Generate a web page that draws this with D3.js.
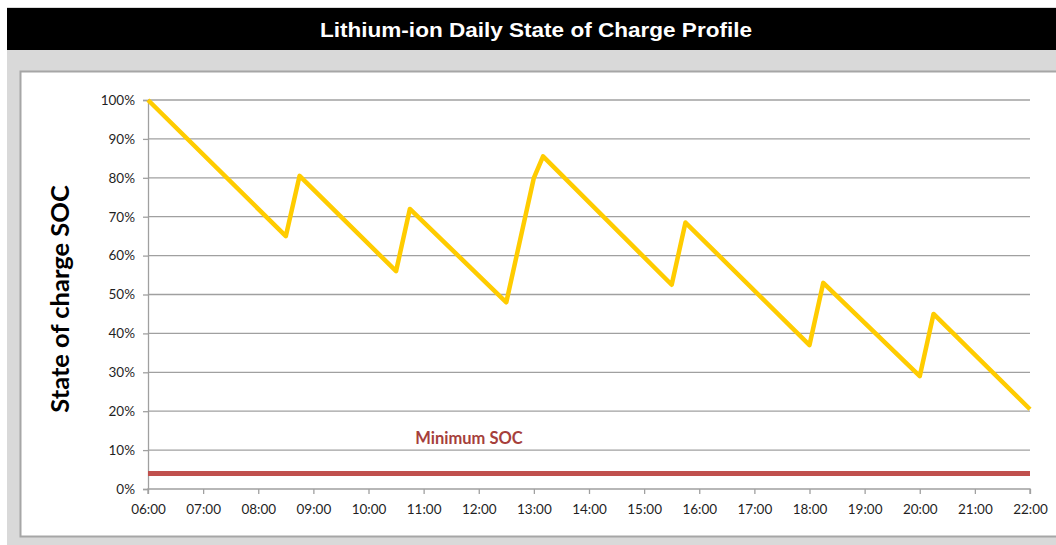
<!DOCTYPE html>
<html lang="en">
<head>
    <meta charset="UTF-8">
    <title>Lithium-ion Daily State of Charge Profile</title>
    <script src="https://cdn.jsdelivr.net/npm/d3@7"></script>
    <style>
        body { margin: 0; background: #fff; }
        svg { display: block; }
    </style>
</head>
<body>
    <div id="chart"></div>
    <script>
// data
const times = ["06:00", "08:30", "08:45", "10:30", "10:45", "12:30", "13:00", "13:10",
               "15:30", "15:45", "18:00", "18:15", "20:00", "20:15", "22:00"];
const soc = [100, 65, 80.5, 56, 72, 48, 80, 85.5, 52.5, 68.5, 37, 53, 29, 45, 20.5];
const minimumSoc = 4;
const yTicks = [0, 10, 20, 30, 40, 50, 60, 70, 80, 90, 100];
const title = "Lithium-ion Daily State of Charge Profile";

const width = 1056, height = 545;
const margin = { top: 100, right: 26, bottom: 56, left: 148 };

const parse = d3.timeParse("%H:%M");
const points = times.map((t, i) => ({ t: parse(t), v: soc[i] }));

const svg = d3.select("#chart").append("svg")
    .attr("width", width)
    .attr("height", height);

// frame: black title bar, grey band, white chart box
svg.append("rect").attr("x", 7).attr("y", 7).attr("width", width).attr("height", height)
    .attr("fill", "#d9d9d9");
svg.append("rect").attr("x", 7).attr("y", 8).attr("width", width).attr("height", 42)
    .attr("fill", "#000");
svg.append("rect").attr("x", 20.5).attr("y", 71.5).attr("width", width).attr("height", 465)
    .attr("fill", "#fff").attr("stroke", "#a6a6a6").attr("stroke-width", 2);

// title is a condensed face in the original, so stretch it to the same width
svg.append("text")
    .attr("x", 536)
    .attr("y", 37)
    .attr("text-anchor", "middle")
    .attr("fill", "#fff")
    .attr("textLength", 432)
    .attr("lengthAdjust", "spacingAndGlyphs")
    .style("font-family", "'Liberation Sans Narrow', 'Liberation Sans', Arial, sans-serif")
    .style("font-weight", "bold")
    .style("font-size", "20.5px")
    .text(title);

const x = d3.scaleTime()
    .domain([parse("06:00"), parse("22:00")])
    .range([margin.left, width - margin.right]);
const y = d3.scaleLinear()
    .domain([0, 100])
    .range([height - margin.bottom, margin.top]);

// gridlines
svg.append("g")
    .selectAll("line")
    .data(yTicks.filter(d => d > 0))
    .join("line")
    .attr("x1", margin.left)
    .attr("x2", width - margin.right)
    .attr("y1", d => y(d))
    .attr("y2", d => y(d))
    .attr("stroke", "#a0a0a0")
    .attr("stroke-width", 1.3);

const tickFont = g => g.selectAll("text")
    .style("font-family", "Lato, 'Open Sans', sans-serif")
    .style("font-size", "13.5px")
    .attr("fill", "#1f1f1f");

// y axis
svg.append("g")
    .attr("transform", `translate(${margin.left},0)`)
    .call(d3.axisLeft(y).tickValues(yTicks).tickFormat(d => d + "%").tickSize(5).tickPadding(8))
    .call(g => g.selectAll("path, line").attr("stroke", "#a0a0a0").attr("stroke-width", 1.3))
    .call(tickFont);

// x axis
svg.append("g")
    .attr("transform", `translate(0,${height - margin.bottom})`)
    .call(d3.axisBottom(x).ticks(d3.timeHour.every(1)).tickFormat(d3.timeFormat("%H:%M")).tickSize(5).tickPadding(10))
    .call(g => g.selectAll("path, line").attr("stroke", "#a0a0a0").attr("stroke-width", 1.3))
    .call(g => g.select(".domain").attr("d", `M${margin.left},5V0H${width - margin.right}V5`))
    .call(tickFont);

// minimum SOC line
svg.append("line")
    .attr("x1", margin.left)
    .attr("x2", width - margin.right)
    .attr("y1", y(minimumSoc))
    .attr("y2", y(minimumSoc))
    .attr("stroke", "#c0504d")
    .attr("stroke-width", 5);

svg.append("text")
    .attr("x", 469)
    .attr("y", y(minimumSoc) - 29)
    .attr("text-anchor", "middle")
    .attr("fill", "#a63f3c")
    .style("font-family", "Lato, sans-serif")
    .style("font-weight", "bold")
    .style("font-size", "16.5px")
    .text("Minimum SOC");

// SOC profile
const line = d3.line()
    .x(d => x(d.t))
    .y(d => y(d.v));

svg.append("path")
    .datum(points)
    .attr("d", line)
    .attr("fill", "none")
    .attr("stroke", "#ffcc00")
    .attr("stroke-width", 4.5)
    .attr("stroke-linejoin", "round");

// y axis title
svg.append("text")
    .attr("transform", `translate(69,299) rotate(-90)`)
    .attr("text-anchor", "middle")
    .attr("fill", "#000")
    .style("font-family", "Lato, sans-serif")
    .style("font-weight", "bold")
    .style("font-size", "25.5px")
    .text("State of charge SOC");
</script>
</body>
</html>
